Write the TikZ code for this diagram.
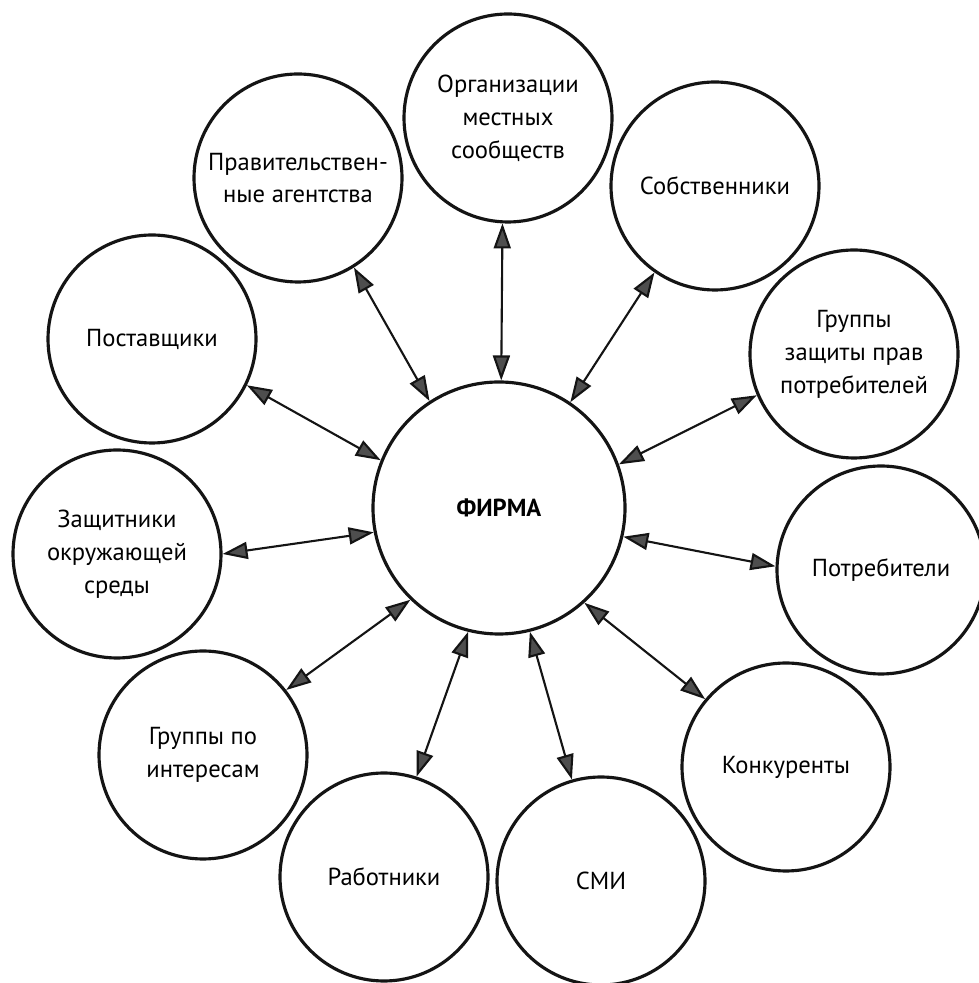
\documentclass[tikz,border=0pt]{standalone}
\usepackage{fontspec}
\setmainfont{PT Sans}
\usetikzlibrary{arrows.meta}
\definecolor{inkblack}{HTML}{141414}
\definecolor{headgray}{HTML}{4E4E4E}

\begin{document}
\begin{tikzpicture}[
    party/.style={circle, draw=inkblack, line width=1.8pt, fill=white, align=center,
                  minimum size=4.16cm, inner sep=0pt, font=\fontsize{14}{18.7}\selectfont},
    core/.style={party, minimum size=5.04cm, font=\fontsize{14}{18.7}\selectfont\bfseries},
    link/.style={{Triangle[length=5mm, width=3.4mm, fill=headgray]}-{Triangle[length=5mm, width=3.4mm, fill=headgray]},
                 draw=inkblack, line width=1.2pt}
  ]
    \useasboundingbox (0,0) rectangle (19.56,19.66);

    \node[core]  (firm)    at (9.98, 9.50) {ФИРМА};
    \node[party] (org)     at (10.16,17.30) {Организации\\местных\\сообществ};
    \node[party] (gov)     at (5.96, 16.10) {Правительствен-\\ные агентства};
    \node[party] (owners)  at (14.30,15.94) {Собственники};
    \node[party] (consgrp) at (17.08,12.58) {Группы\\защиты прав\\потребителей};
    \node[party] (cons)    at (17.62, 8.26) {Потребители};
    \node[party] (comp)    at (15.72, 4.32) {Конкуренты};
    \node[party] (media)   at (12.02, 2.04) {\raisebox{-0.12cm}{СМИ}};
    \node[party] (staff)   at (7.68, 2.12)  {\raisebox{-0.18cm}{Работники}};
    \node[party] (intgrp)  at (4.06, 4.56)  {Группы по\\интересам};
    \node[party] (env)     at (2.34, 8.58)  {Защитники\\окружающей\\среды};
    \node[party] (supp)    at (3.04,12.88)  {Поставщики};

    \foreach \a/\b/\c in {89/org/267, 123/gov/302, 56/owners/235, 20/consgrp/203,
                          -13/cons/178, -48/comp/140, -76/media/106, -104/staff/72,
                          -134/intgrp/38, 191/env/0, 158/supp/334}
      \draw[link] (firm.\a) -- (\b.\c);
  \end{tikzpicture}
\end{document}
